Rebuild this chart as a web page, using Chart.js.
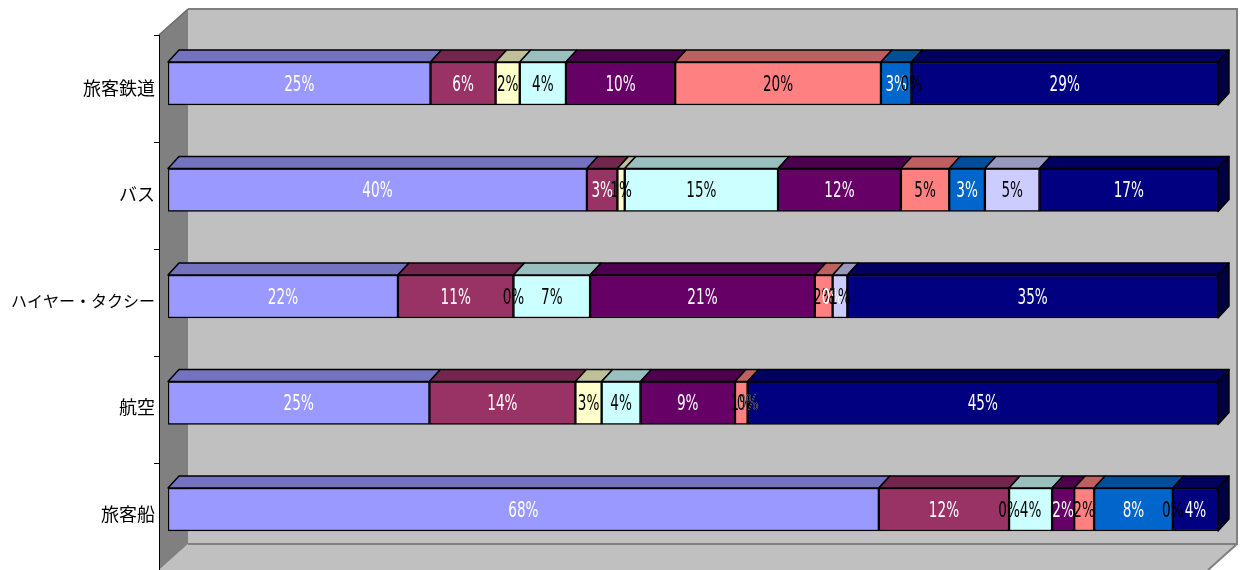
<!DOCTYPE html>
<html>
<head>
<meta charset="utf-8">
<script src="https://cdn.jsdelivr.net/npm/chart.js@4.4.1/dist/chart.umd.min.js"></script>
<style>
  html, body { margin: 0; padding: 0; background: #fff; }
</style>
</head>
<body>
<canvas id="chart" width="1240" height="570"></canvas>
<script>
// categories (top to bottom)
const categories = ['旅客鉄道', 'バス', 'ハイヤー・タクシー', '航空', '旅客船'];

// shares in % per series
const series1 = [25.0, 39.9, 21.9, 24.9, 67.7];
const series2 = [6.2, 2.9, 11.0, 13.9, 12.4];
const series3 = [2.3, 0.7, 0, 2.5, 0];
const series4 = [4.4, 14.6, 7.3, 3.7, 4.1];
const series5 = [10.4, 11.7, 21.4, 9.0, 2.1];
const series6 = [19.6, 4.6, 1.7, 1.2, 1.9];
const series7 = [2.9, 3.4, 0, 0, 7.5];
const series8 = [0, 5.2, 1.4, 0, 0];
const series9 = [29.2, 17.0, 35.3, 44.8, 4.3];

const seriesValues = [series1, series2, series3, series4, series5, series6, series7, series8, series9];
const seriesColors = ['#9999FF', '#993366', '#FFFFCC', '#CCFFFF', '#660066', '#FF8080', '#0066CC', '#CCCCFF', '#000080'];
const labelColors = ['#fff', '#fff', '#000', '#000', '#fff', '#000', '#fff', '#000', '#fff'];

// 3D offsets
const BAR_DX = 11, BAR_DY = -12;
const WALL_DX = 29, WALL_DY = -26;

function shade(hex, f) {
  const n = parseInt(hex.slice(1), 16);
  const r = Math.round(((n >> 16) & 255) * f);
  const g = Math.round(((n >> 8) & 255) * f);
  const b = Math.round((n & 255) * f);
  return `rgb(${r},${g},${b})`;
}

function poly(ctx, pts, fill, stroke, lw) {
  ctx.beginPath();
  ctx.moveTo(pts[0][0], pts[0][1]);
  for (let i = 1; i < pts.length; i++) ctx.lineTo(pts[i][0], pts[i][1]);
  ctx.closePath();
  if (fill) { ctx.fillStyle = fill; ctx.fill(); }
  if (stroke) { ctx.strokeStyle = stroke; ctx.lineWidth = lw || 1; ctx.stroke(); }
}

// walls, floor and the category axis
const wallsPlugin = {
  id: 'walls',
  beforeDraw(chart) {
    const { ctx, chartArea: a } = chart;
    ctx.save();
    ctx.fillStyle = '#fff';
    ctx.fillRect(0, 0, chart.width, chart.height);

    const axisX = a.left - 9;
    const axisTop = a.top + 4.75;
    const axisBottom = chart.height;
    const backL = axisX + WALL_DX, backT = axisTop + WALL_DY;
    const backR = 1237, backB = axisBottom + WALL_DY;

    // back wall
    poly(ctx, [[backL, backT], [backR, backT], [backR, backB], [backL, backB]], '#C0C0C0');
    // floor
    poly(ctx, [[backL, backB], [backR, backB], [backR - WALL_DX, axisBottom], [axisX, axisBottom]], '#C0C0C0');
    // left side wall
    poly(ctx, [[axisX, axisTop], [backL, backT], [backL, backB], [axisX, axisBottom]], '#808080');

    ctx.strokeStyle = '#808080';
    ctx.lineWidth = 2;
    ctx.beginPath();
    ctx.moveTo(backL, backT); ctx.lineTo(backR, backT); ctx.lineTo(backR, backB);
    ctx.lineTo(backL, backB);
    ctx.moveTo(backR, backB); ctx.lineTo(backR - WALL_DX, axisBottom);
    ctx.stroke();

    ctx.strokeStyle = '#6a6a6a';
    ctx.lineWidth = 1.5;
    ctx.beginPath();
    ctx.moveTo(axisX, axisTop); ctx.lineTo(backL, backT);
    ctx.stroke();

    // axis line and ticks
    ctx.strokeStyle = '#000';
    ctx.lineWidth = 1;
    ctx.beginPath();
    ctx.moveTo(axisX + 0.5, axisTop); ctx.lineTo(axisX + 0.5, axisBottom);
    const step = (axisBottom - axisTop) / categories.length;
    for (let k = 0; k <= categories.length; k++) {
      const y = Math.round(axisTop + k * step) + 0.5;
      ctx.moveTo(axisX - 5, y); ctx.lineTo(axisX + 0.5, y);
    }
    ctx.stroke();
    ctx.restore();
  }
};

// top / side faces and the data labels
const facesPlugin = {
  id: 'faces',
  afterDatasetsDraw(chart) {
    const { ctx } = chart;
    ctx.save();
    ctx.lineJoin = 'round';
    const last = [];
    seriesValues.forEach((vals, i) => {
      const meta = chart.getDatasetMeta(i);
      meta.data.forEach((el, j) => {
        const { x, y, base, height } = el.getProps(['x', 'y', 'base', 'height'], true);
        if (vals[j] <= 0) return;
        const top = y - height / 2;
        poly(ctx, [[base, top], [x, top], [x + BAR_DX, top + BAR_DY], [base + BAR_DX, top + BAR_DY]],
          shade(seriesColors[i], 0.75), '#000', 1.5);
        last[j] = { x, top, bottom: y + height / 2, color: seriesColors[i] };
      });
    });
    last.forEach(b => {
      poly(ctx, [[b.x, b.top], [b.x + BAR_DX, b.top + BAR_DY], [b.x + BAR_DX, b.bottom + BAR_DY], [b.x, b.bottom]],
        shade(b.color, 0.5), '#000', 1.5);
    });

    // value labels
    ctx.font = '21px "Liberation Sans Narrow", "DejaVu Sans Condensed", sans-serif';
    ctx.textAlign = 'center';
    ctx.textBaseline = 'middle';
    seriesValues.forEach((vals, i) => {
      const meta = chart.getDatasetMeta(i);
      meta.data.forEach((el, j) => {
        const { x, y, base } = el.getProps(['x', 'y', 'base'], true);
        ctx.save();
        ctx.translate((x + base) / 2, y + 2);
        ctx.scale(0.72, 1);
        ctx.fillStyle = labelColors[i];
        ctx.fillText(Math.round(vals[j]) + '%', 0, 0);
        ctx.restore();
      });
    });
    ctx.restore();
  }
};

new Chart(document.getElementById('chart'), {
  type: 'bar',
  data: {
    labels: categories,
    datasets: seriesValues.map((vals, i) => ({
      label: 'series' + (i + 1),
      data: vals,
      backgroundColor: seriesColors[i],
      borderColor: '#000',
      borderWidth: 1.5,
      borderSkipped: false,
      barThickness: 43
    }))
  },
  options: {
    indexAxis: 'y',
    responsive: false,
    devicePixelRatio: 1,
    animation: false,
    layout: { padding: { left: 0, right: 22, top: 30.25, bottom: 7.25 } },
    plugins: { legend: { display: false }, tooltip: { enabled: false } },
    scales: {
      x: { stacked: true, min: 0, max: 100, display: false },
      y: {
        stacked: true,
        grid: { display: false },
        border: { display: false },
        afterFit: (scale) => {
          scale.width = 168;
          scale.paddingTop = 0;
          scale.paddingBottom = 0;
        },
        ticks: {
          color: '#000',
          padding: 5,
          labelOffset: 4.5,
          // the long label is squeezed a little, as in the original
          font: (c) => ({
            family: '"Noto Sans CJK JP", sans-serif',
            size: categories[c.index] && categories[c.index].length > 6 ? 16 : 18
          })
        }
      }
    }
  },
  plugins: [wallsPlugin, facesPlugin]
});
</script>
</body>
</html>
